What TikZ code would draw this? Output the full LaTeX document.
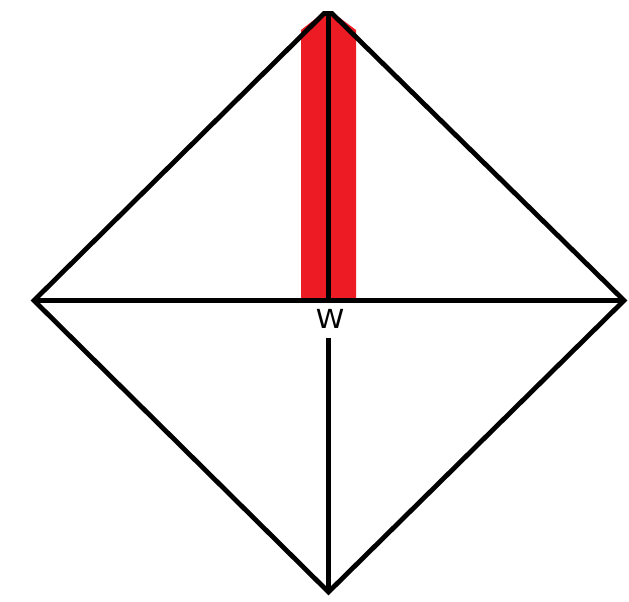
\documentclass[tikz,border=0pt]{standalone}
\usepackage{fontspec}
\setmainfont{DejaVu Sans}
\definecolor{paintred}{HTML}{ED1C24}
\begin{document}
\begin{tikzpicture}[x=1pt,y=-1pt,
  edge/.style={line width=4.8pt, line join=miter},
  lbl/.style={font=\fontsize{25}{25}\selectfont, inner sep=0pt, xscale=1.15, yscale=1.05}]
\useasboundingbox (0,0) rectangle (629,602);
\fill[white] (0,0) rectangle (629,602);
\coordinate (L) at (34,300.5);
\coordinate (R) at (624,300.5);
\coordinate (T1) at (324,13.5);
\coordinate (T2) at (332,13.5);
\coordinate (T) at (328.5,13.5);
\coordinate (B) at (328.5,592);
\coordinate (M) at (328.5,300.5);
\coordinate (Wb) at (328.5,338);
\fill[paintred] (301,30) -- (324,12) -- (332,12) -- (356,30) -- (356,298) -- (301,298) -- cycle;
\draw[edge] (L) -- (T1) -- (T2) -- (R) -- (B) -- cycle;
\draw[edge] (L) -- (R);
\draw[edge] (T) -- (M);
\draw[edge] (Wb) -- (B);
\node[lbl] (W) at (330,318.5) {W};
\end{tikzpicture}
\end{document}
